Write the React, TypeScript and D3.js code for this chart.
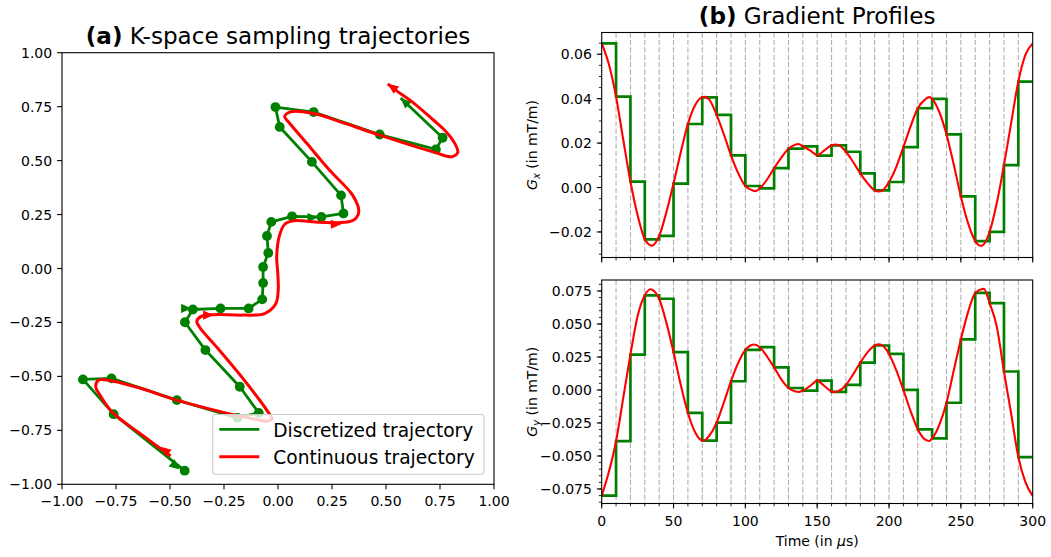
import React from "react";
import * as d3 from "d3";

const W = 1051;
const H = 557;
const FONT = "'DejaVu Sans', 'Liberation Sans', sans-serif";
const GREEN = "#008000";
const RED = "#ff0000";

// ---------- (a) K-space trajectories ----------
// Discretized trajectory samples (horizontal k, vertical k)
const discKx = [-0.432, -0.761, -0.903, -0.771, -0.468, -0.188, -0.089, -0.177, -0.336, -0.431, -0.394, -0.266, -0.136, -0.073, -0.069, -0.069, -0.045, -0.051, -0.031, 0.065, 0.201, 0.303, 0.292, 0.157, 0.008, -0.012, 0.165, 0.471, 0.731, 0.762, 0.568];
const discKy = [-0.937, -0.675, -0.514, -0.509, -0.61, -0.692, -0.669, -0.548, -0.378, -0.249, -0.19, -0.185, -0.185, -0.143, -0.067, 0.007, 0.072, 0.151, 0.216, 0.242, 0.239, 0.255, 0.339, 0.494, 0.656, 0.748, 0.725, 0.621, 0.552, 0.606, 0.79];
// Continuous trajectory
const contKx = [-0.497, -0.631, -0.765, -0.825, -0.844, -0.83, -0.779, -0.64, -0.469, -0.238, -0.108, -0.048, -0.029, -0.052, -0.168, -0.284, -0.363, -0.376, -0.353, -0.293, -0.163, -0.062, -0.011, 0.001, -0.001, -0.006, 0.006, 0.031, 0.073, 0.193, 0.309, 0.355, 0.374, 0.346, 0.239, 0.133, 0.054, 0.031, 0.059, 0.161, 0.309, 0.471, 0.725, 0.804, 0.832, 0.818, 0.776, 0.716, 0.624, 0.54, 0.508];
const contKy = [-0.869, -0.77, -0.668, -0.585, -0.548, -0.517, -0.519, -0.554, -0.61, -0.67, -0.698, -0.707, -0.698, -0.656, -0.503, -0.364, -0.272, -0.244, -0.221, -0.214, -0.216, -0.209, -0.165, -0.1, -0.022, 0.052, 0.15, 0.205, 0.221, 0.214, 0.214, 0.228, 0.265, 0.339, 0.455, 0.58, 0.673, 0.705, 0.726, 0.719, 0.673, 0.618, 0.538, 0.518, 0.538, 0.58, 0.636, 0.691, 0.77, 0.83, 0.856];
// Direction arrows (tip position, direction)
const discArrowX = [-0.455, -0.4, 0.185, 0.568];
const discArrowY = [-0.931, -0.185, 0.236, 0.79];
const discArrowDx = [0.329, 1, 1, -0.194];
const discArrowDy = [-0.262, 0, 0, 0.183];
const contArrowX = [-0.544, -0.298, 0.293, 0.509];
const contArrowY = [-0.826, -0.216, 0.205, 0.856];
const contArrowDx = [-0.134, 1, 1, -0.116];
const contArrowDy = [0.106, 0, 0, 0.088];
const kTicks = [-1, -0.75, -0.5, -0.25, 0, 0.25, 0.5, 0.75, 1];

// ---------- (b) Gradient profiles ----------
const stepTimes = [0, 10, 20, 30, 40, 50, 60, 70, 80, 90, 100, 110, 120, 130, 140, 150, 160, 170, 180, 190, 200, 210, 220, 230, 240, 250, 260, 270, 280, 290, 300];
const gxSteps = [0.0649, 0.0409, 0.0027, -0.0233, -0.0218, 0.0018, 0.0286, 0.0406, 0.0327, 0.0145, 0.0007, -0.0004, 0.0087, 0.0175, 0.0185, 0.0144, 0.019, 0.0161, 0.0064, -0.0013, 0.0025, 0.0182, 0.0357, 0.0399, 0.0239, -0.004, -0.0241, -0.02, 0.0101, 0.0477];
const gySteps = [-0.0801, -0.0388, 0.0268, 0.0717, 0.0691, 0.0286, -0.0173, -0.0383, -0.0247, 0.0066, 0.0304, 0.0324, 0.0171, 0.0015, -0.0005, 0.0071, -0.0015, 0.0038, 0.0207, 0.0337, 0.0273, 0.0, -0.0298, -0.0367, -0.0097, 0.0383, 0.0735, 0.0658, 0.014, -0.0508];

const gxCurveT = [0, 5, 10, 15, 20, 25, 30, 35, 40, 45, 50, 55, 60, 65, 70, 72, 75, 80, 85, 90, 95, 100, 105, 107, 110, 115, 120, 125, 130, 135, 137, 140, 145, 148, 150, 152, 155, 160, 163, 165, 170, 175, 180, 185, 190, 193, 195, 200, 205, 210, 215, 220, 225, 228, 230, 235, 240, 245, 250, 255, 260, 264, 265, 270, 275, 280, 285, 290, 295, 300];
const gxCurveV = [0.0649, 0.0555, 0.0409, 0.0215, 0.0027, -0.0125, -0.0233, -0.0262, -0.0218, -0.0112, 0.0018, 0.0158, 0.0286, 0.037, 0.0406, 0.0408, 0.0395, 0.0327, 0.024, 0.0145, 0.0065, 0.0007, -0.0013, -0.0016, -0.0004, 0.0035, 0.0087, 0.0135, 0.0175, 0.0194, 0.0196, 0.0185, 0.0167, 0.0153, 0.0144, 0.0152, 0.0167, 0.019, 0.0194, 0.0191, 0.0161, 0.0115, 0.0064, 0.002, -0.0013, -0.0018, -0.0015, 0.0025, 0.0092, 0.0182, 0.0275, 0.0357, 0.0396, 0.0407, 0.0399, 0.034, 0.0239, 0.0105, -0.004, -0.016, -0.0241, -0.0262, -0.0261, -0.02, -0.007, 0.0101, 0.029, 0.0477, 0.0598, 0.0649];

const gyCurveT = [0, 5, 10, 15, 20, 25, 30, 34, 35, 40, 45, 50, 55, 60, 65, 70, 71, 75, 80, 85, 90, 95, 100, 105, 106, 110, 115, 120, 125, 130, 135, 137, 140, 145, 148, 150, 152, 155, 160, 162, 165, 170, 175, 180, 185, 190, 193, 195, 200, 205, 210, 215, 220, 225, 228, 230, 235, 240, 245, 250, 255, 260, 265, 266, 270, 275, 280, 285, 290, 295, 300];
const gyCurveV = [-0.0801, -0.062, -0.0388, -0.006, 0.0268, 0.056, 0.0717, 0.0763, 0.076, 0.0691, 0.051, 0.0286, 0.004, -0.0173, -0.032, -0.0383, -0.0384, -0.0345, -0.0247, -0.0095, 0.0066, 0.0205, 0.0304, 0.0343, 0.0344, 0.0324, 0.0255, 0.0171, 0.008, 0.0015, -0.0012, -0.0015, -0.0005, 0.003, 0.0058, 0.0075, 0.0058, 0.003, -0.0012, -0.0016, -0.0008, 0.0038, 0.0118, 0.0207, 0.0285, 0.0337, 0.0345, 0.034, 0.0273, 0.015, 0.0, -0.016, -0.0298, -0.0375, -0.0386, -0.0367, -0.0265, -0.0097, 0.0145, 0.0383, 0.059, 0.0735, 0.0765, 0.0766, 0.0658, 0.048, 0.014, -0.018, -0.0508, -0.07, -0.0803];

const timeTicks = [0, 50, 100, 150, 200, 250, 300];
const gxTicks = [-0.02, 0, 0.02, 0.04, 0.06];
const gyTicks = [-0.075, -0.05, -0.025, 0, 0.025, 0.05, 0.075];

// ---------- layout ----------
const LA = { x0: 62, x1: 494, y0: 52.7, y1: 484.3 };
const RT = { x0: 601.7, x1: 1032.7, y0: 32.5, y1: 257.5 };
const RB = { x0: 601.7, x1: 1032.7, y0: 280, y1: 503.5 };
const TICK = 4.9;
const MINOR = 2.8;
const PAD = 4.9;
const TICK_FS = 14;
const TITLE_FS = 23.1;
const LEGEND_FS = 18.6;

function arrowPath(tx: number, ty: number, ux: number, uy: number, len: number, half: number) {
  const n = Math.hypot(ux, uy) || 1;
  const dx = ux / n, dy = uy / n;
  const bx = tx - dx * len, by = ty - dy * len;
  const px = -dy, py = dx;
  return `M${tx},${ty}L${bx + px * half},${by + py * half}L${bx - px * half},${by - py * half}Z`;
}

export default function App() {
  // scales
  const xK = d3.scaleLinear().domain([-1, 1]).range([LA.x0, LA.x1]);
  const yK = d3.scaleLinear().domain([-1, 1]).range([LA.y1, LA.y0]);
  const xT = d3.scaleLinear().domain([0, 300]).range([RT.x0, RT.x1]);
  const yGx = d3.scaleLinear().domain([-0.0315, 0.0698]).range([RT.y1, RT.y0]);
  const yGy = d3.scaleLinear().domain([-0.086, 0.0833]).range([RB.y1, RB.y0]);

  const kLine = d3.line<[number, number]>().x((d) => xK(d[0])).y((d) => yK(d[1]));
  const discPts: [number, number][] = discKx.map((x, i) => [x, discKy[i]]);
  const contPts: [number, number][] = contKx.map((x, i) => [x, contKy[i]]);
  const contLine = d3
    .line<[number, number]>()
    .x((d) => xK(d[0]))
    .y((d) => yK(d[1]))
    .curve(d3.curveCatmullRom.alpha(0.5));

  const stepPts = (vals: number[]): [number, number][] =>
    vals.map((v, i) => [stepTimes[i], v] as [number, number]).concat([[stepTimes[stepTimes.length - 1], vals[vals.length - 1]]]);

  const gxStep = d3.line<[number, number]>().x((d) => xT(d[0])).y((d) => yGx(d[1])).curve(d3.curveStepAfter);
  const gyStep = d3.line<[number, number]>().x((d) => xT(d[0])).y((d) => yGy(d[1])).curve(d3.curveStepAfter);
  const gxCurve = d3.line<[number, number]>().x((d) => xT(d[0])).y((d) => yGx(d[1])).curve(d3.curveMonotoneX);
  const gyCurve = d3.line<[number, number]>().x((d) => xT(d[0])).y((d) => yGy(d[1])).curve(d3.curveMonotoneX);
  const gxCurvePts: [number, number][] = gxCurveT.map((t, i) => [t, gxCurveV[i]]);
  const gyCurvePts: [number, number][] = gyCurveT.map((t, i) => [t, gyCurveV[i]]);

  const fmt2 = d3.format(".2f");
  const fmt3 = d3.format(".3f");
  const fmt0 = d3.format("d");

  const minorY = (scale: d3.ScaleLinear<number, number>) => {
    const [a, b] = scale.domain();
    return d3.range(Math.ceil(a / 0.005), Math.floor(b / 0.005) + 1).map((k) => k * 0.005);
  };

  const frame = (b: typeof LA, key: string) => (
    <rect key={key} x={b.x0} y={b.y0} width={b.x1 - b.x0} height={b.y1 - b.y0} fill="none" stroke="#000" strokeWidth={1.1} />
  );

  const dashedTimes = stepTimes.slice(1, stepTimes.length - 1);

  const rightPanel = (
    b: typeof RT,
    yScale: d3.ScaleLinear<number, number>,
    steps: number[],
    curvePts: [number, number][],
    stepGen: d3.Line<[number, number]>,
    curveGen: d3.Line<[number, number]>,
    yTicks: number[],
    yFmt: (n: number) => string,
    showX: boolean,
    clipId: string
  ) => (
    <g>
      <defs>
        <clipPath id={clipId}>
          <rect x={b.x0} y={b.y0} width={b.x1 - b.x0} height={b.y1 - b.y0} />
        </clipPath>
      </defs>
      <g clipPath={`url(#${clipId})`}>
        {dashedTimes.map((t) => (
          <line key={t} x1={xT(t)} x2={xT(t)} y1={b.y0} y2={b.y1} stroke="#adadad" strokeWidth={1.05} strokeDasharray="5.2 2.2" />
        ))}
        <path d={stepGen(stepPts(steps)) || ""} fill="none" stroke={GREEN} strokeWidth={2.7} strokeLinejoin="miter" />
        <path d={curveGen(curvePts) || ""} fill="none" stroke={RED} strokeWidth={2.1} strokeLinejoin="round" />
      </g>
      {frame(b, clipId + "f")}
      {/* y ticks */}
      {minorY(yScale).map((v) => (
        <line key={"ym" + v} x1={b.x0 - MINOR} x2={b.x0} y1={yScale(v)} y2={yScale(v)} stroke="#000" strokeWidth={0.85} />
      ))}
      {yTicks.map((v) => (
        <g key={"y" + v}>
          <line x1={b.x0 - TICK} x2={b.x0} y1={yScale(v)} y2={yScale(v)} stroke="#000" strokeWidth={1.1} />
          <text x={b.x0 - TICK - PAD} y={yScale(v)} dy="0.36em" textAnchor="end" fontSize={TICK_FS} fontFamily={FONT}>
            {yFmt(v)}
          </text>
        </g>
      ))}
      {/* x ticks */}
      {stepTimes.map((t) => (
        <line key={"xm" + t} x1={xT(t)} x2={xT(t)} y1={b.y1} y2={b.y1 + MINOR} stroke="#000" strokeWidth={0.85} />
      ))}
      {timeTicks.map((t) => (
        <g key={"x" + t}>
          <line x1={xT(t)} x2={xT(t)} y1={b.y1} y2={b.y1 + TICK} stroke="#000" strokeWidth={1.1} />
          {showX && (
            <text x={xT(t)} y={b.y1 + 22} textAnchor="middle" fontSize={TICK_FS} fontFamily={FONT}>
              {fmt0(t)}
            </text>
          )}
        </g>
      ))}
    </g>
  );

  const legend = { x0: 212.7, x1: 484, y0: 414.5, y1: 474.3 };

  return (
    <svg
      width={W}
      height={H}
      viewBox={`0 0 ${W} ${H}`}
      style={{ position: "absolute", left: 0, top: 0, display: "block", background: "#fff" }}
      fontFamily={FONT}
    >
      <rect x={0} y={0} width={W} height={H} fill="#fff" />

      {/* ---------------- (a) ---------------- */}
      <text x={(LA.x0 + LA.x1) / 2} y={44.3} textAnchor="middle" fontSize={TITLE_FS} fontFamily={FONT}>
        <tspan fontWeight="bold">(a)</tspan>
        <tspan> K-space sampling trajectories</tspan>
      </text>

      <g>
        <path d={kLine(discPts) || ""} fill="none" stroke={GREEN} strokeWidth={2.8} strokeLinejoin="round" />
        {discPts.slice(0, discPts.length - 1).map((p, i) => (
          <circle key={"gd" + i} cx={xK(p[0])} cy={yK(p[1])} r={4.9} fill={GREEN} />
        ))}
        {discArrowX.map((x, i) => (
          <path
            key={"ga" + i}
            d={arrowPath(xK(x), yK(discArrowY[i]), discArrowDx[i], -discArrowDy[i], 10.5, 4.6)}
            fill={GREEN}
          />
        ))}
        <path d={contLine(contPts) || ""} fill="none" stroke={RED} strokeWidth={3} strokeLinejoin="round" />
        {contArrowX.map((x, i) => (
          <path
            key={"ra" + i}
            d={arrowPath(xK(x), yK(contArrowY[i]), contArrowDx[i], -contArrowDy[i], 10.5, 4.6)}
            fill={RED}
          />
        ))}
      </g>

      {frame(LA, "laf")}
      {kTicks.map((v) => (
        <g key={"kx" + v}>
          <line x1={xK(v)} x2={xK(v)} y1={LA.y1} y2={LA.y1 + TICK} stroke="#000" strokeWidth={1.1} />
          <text x={xK(v)} y={LA.y1 + 22} textAnchor="middle" fontSize={TICK_FS} fontFamily={FONT}>
            {fmt2(v)}
          </text>
          <line x1={LA.x0 - TICK} x2={LA.x0} y1={yK(v)} y2={yK(v)} stroke="#000" strokeWidth={1.1} />
          <text x={LA.x0 - TICK - PAD} y={yK(v)} dy="0.36em" textAnchor="end" fontSize={TICK_FS} fontFamily={FONT}>
            {fmt2(v)}
          </text>
        </g>
      ))}

      {/* legend */}
      <rect
        x={legend.x0}
        y={legend.y0}
        width={legend.x1 - legend.x0}
        height={legend.y1 - legend.y0}
        rx={3}
        ry={3}
        fill="#fff"
        fillOpacity={0.8}
        stroke="#cccccc"
        strokeWidth={1.1}
      />
      <line x1={219.3} x2={259.3} y1={429.3} y2={429.3} stroke={GREEN} strokeWidth={2.8} />
      <text x={273.3} y={437} fontSize={LEGEND_FS} fontFamily={FONT}>
        Discretized trajectory
      </text>
      <line x1={219.3} x2={259.3} y1={456.7} y2={456.7} stroke={RED} strokeWidth={3} />
      <text x={273.3} y={464} fontSize={LEGEND_FS} fontFamily={FONT}>
        Continuous trajectory
      </text>

      {/* ---------------- (b) ---------------- */}
      <text x={(RT.x0 + RT.x1) / 2} y={23.5} textAnchor="middle" fontSize={TITLE_FS} fontFamily={FONT}>
        <tspan fontWeight="bold">(b)</tspan>
        <tspan> Gradient Profiles</tspan>
      </text>

      {rightPanel(RT, yGx, gxSteps, gxCurvePts, gxStep, gxCurve, gxTicks, fmt2, false, "clipTop")}
      {rightPanel(RB, yGy, gySteps, gyCurvePts, gyStep, gyCurve, gyTicks, fmt3, true, "clipBot")}

      <text transform={`translate(537, ${(RT.y0 + RT.y1) / 2}) rotate(-90)`} textAnchor="middle" fontSize={14} fontFamily={FONT}>
        <tspan fontStyle="italic">G</tspan>
        <tspan fontStyle="italic" fontSize={10} dy={2.5}>x</tspan>
        <tspan dy={-2.5}> (in mT/m)</tspan>
      </text>
      <text transform={`translate(537, ${(RB.y0 + RB.y1) / 2}) rotate(-90)`} textAnchor="middle" fontSize={14} fontFamily={FONT}>
        <tspan fontStyle="italic">G</tspan>
        <tspan fontStyle="italic" fontSize={10} dy={2.5}>y</tspan>
        <tspan dy={-2.5}> (in mT/m)</tspan>
      </text>
      <text x={(RB.x0 + RB.x1) / 2} y={546} textAnchor="middle" fontSize={14} fontFamily={FONT}>
        <tspan>Time (in </tspan>
        <tspan fontStyle="italic">μ</tspan>
        <tspan>s)</tspan>
      </text>
    </svg>
  );
}
